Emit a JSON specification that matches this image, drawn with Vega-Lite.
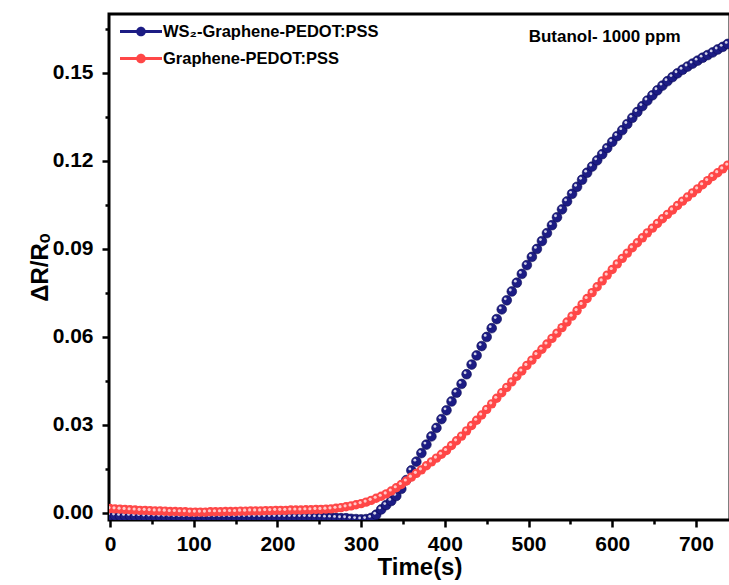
{
  "$schema": "https://vega.github.io/schema/vega-lite/v6.json",
  "width": 621,
  "height": 506,
  "autosize": {"type": "none"},
  "padding": {"left": 109, "top": 14, "right": 0, "bottom": 65},
  "background": "white",
  "config": {"view": {"stroke": "black", "strokeWidth": 3}, "font": "Liberation Sans"},
  "data": {"values": [
    {"t":0,"ws":-0.0008,"g":0.0015},{"t":6,"ws":-0.0009,"g":0.0014},{"t":12,"ws":-0.0010,"g":0.0013},{"t":18,"ws":-0.0010,"g":0.0012},
    {"t":24,"ws":-0.0010,"g":0.0011},{"t":30,"ws":-0.0011,"g":0.0010},{"t":36,"ws":-0.0011,"g":0.0009},{"t":42,"ws":-0.0012,"g":0.0009},
    {"t":48,"ws":-0.0012,"g":0.0008},{"t":54,"ws":-0.0012,"g":0.0007},{"t":60,"ws":-0.0013,"g":0.0007},{"t":66,"ws":-0.0013,"g":0.0006},
    {"t":72,"ws":-0.0013,"g":0.0005},{"t":78,"ws":-0.0014,"g":0.0005},{"t":84,"ws":-0.0014,"g":0.0004},{"t":90,"ws":-0.0014,"g":0.0004},
    {"t":96,"ws":-0.0014,"g":0.0003},{"t":102,"ws":-0.0014,"g":0.0003},{"t":108,"ws":-0.0014,"g":0.0003},{"t":114,"ws":-0.0014,"g":0.0003},
    {"t":120,"ws":-0.0014,"g":0.0004},{"t":126,"ws":-0.0014,"g":0.0004},{"t":132,"ws":-0.0014,"g":0.0004},{"t":138,"ws":-0.0014,"g":0.0005},
    {"t":144,"ws":-0.0014,"g":0.0005},{"t":150,"ws":-0.0014,"g":0.0005},{"t":156,"ws":-0.0014,"g":0.0006},{"t":162,"ws":-0.0014,"g":0.0006},
    {"t":168,"ws":-0.0014,"g":0.0007},{"t":174,"ws":-0.0014,"g":0.0007},{"t":180,"ws":-0.0014,"g":0.0007},{"t":186,"ws":-0.0014,"g":0.0008},
    {"t":192,"ws":-0.0014,"g":0.0008},{"t":198,"ws":-0.0014,"g":0.0009},{"t":204,"ws":-0.0014,"g":0.0009},{"t":210,"ws":-0.0014,"g":0.0009},
    {"t":216,"ws":-0.0014,"g":0.0010},{"t":222,"ws":-0.0014,"g":0.0010},{"t":228,"ws":-0.0014,"g":0.0010},{"t":234,"ws":-0.0014,"g":0.0011},
    {"t":240,"ws":-0.0014,"g":0.0011},{"t":246,"ws":-0.0015,"g":0.0012},{"t":252,"ws":-0.0015,"g":0.0012},{"t":258,"ws":-0.0016,"g":0.0013},
    {"t":264,"ws":-0.0016,"g":0.0014},{"t":270,"ws":-0.0017,"g":0.0016},{"t":276,"ws":-0.0018,"g":0.0018},{"t":282,"ws":-0.0018,"g":0.0021},
    {"t":288,"ws":-0.0020,"g":0.0024},{"t":294,"ws":-0.0021,"g":0.0028},{"t":300,"ws":-0.0022,"g":0.0032},{"t":306,"ws":-0.0021,"g":0.0037},
    {"t":312,"ws":-0.0017,"g":0.0043},{"t":318,"ws":-0.0006,"g":0.0050},{"t":324,"ws":0.0012,"g":0.0057},{"t":330,"ws":0.0027,"g":0.0065},
    {"t":336,"ws":0.0041,"g":0.0075},{"t":342,"ws":0.0058,"g":0.0086},{"t":348,"ws":0.0082,"g":0.0097},{"t":354,"ws":0.0112,"g":0.0109},
    {"t":360,"ws":0.0145,"g":0.0122},{"t":366,"ws":0.0175,"g":0.0135},{"t":372,"ws":0.0204,"g":0.0147},{"t":378,"ws":0.0233,"g":0.0161},
    {"t":384,"ws":0.0261,"g":0.0174},{"t":390,"ws":0.0290,"g":0.0187},{"t":396,"ws":0.0320,"g":0.0200},{"t":402,"ws":0.0350,"g":0.0213},
    {"t":408,"ws":0.0380,"g":0.0230},{"t":414,"ws":0.0410,"g":0.0246},{"t":420,"ws":0.0440,"g":0.0262},{"t":426,"ws":0.0473,"g":0.0280},
    {"t":432,"ws":0.0506,"g":0.0298},{"t":438,"ws":0.0537,"g":0.0316},{"t":444,"ws":0.0569,"g":0.0334},{"t":450,"ws":0.0600,"g":0.0353},
    {"t":456,"ws":0.0630,"g":0.0372},{"t":462,"ws":0.0661,"g":0.0391},{"t":468,"ws":0.0694,"g":0.0410},{"t":474,"ws":0.0725,"g":0.0428},
    {"t":480,"ws":0.0755,"g":0.0447},{"t":486,"ws":0.0785,"g":0.0466},{"t":492,"ws":0.0815,"g":0.0484},{"t":498,"ws":0.0845,"g":0.0503},
    {"t":504,"ws":0.0873,"g":0.0521},{"t":510,"ws":0.0900,"g":0.0540},{"t":516,"ws":0.0927,"g":0.0558},{"t":522,"ws":0.0954,"g":0.0576},
    {"t":528,"ws":0.0981,"g":0.0595},{"t":534,"ws":0.1008,"g":0.0613},{"t":540,"ws":0.1035,"g":0.0632},{"t":546,"ws":0.1062,"g":0.0651},
    {"t":552,"ws":0.1088,"g":0.0671},{"t":558,"ws":0.1112,"g":0.0690},{"t":564,"ws":0.1136,"g":0.0711},{"t":570,"ws":0.1160,"g":0.0731},
    {"t":576,"ws":0.1181,"g":0.0751},{"t":582,"ws":0.1202,"g":0.0771},{"t":588,"ws":0.1223,"g":0.0791},{"t":594,"ws":0.1244,"g":0.0811},
    {"t":600,"ws":0.1265,"g":0.0830},{"t":606,"ws":0.1285,"g":0.0849},{"t":612,"ws":0.1305,"g":0.0868},{"t":618,"ws":0.1326,"g":0.0886},
    {"t":624,"ws":0.1347,"g":0.0904},{"t":630,"ws":0.1367,"g":0.0921},{"t":636,"ws":0.1387,"g":0.0938},{"t":642,"ws":0.1406,"g":0.0955},
    {"t":648,"ws":0.1424,"g":0.0971},{"t":654,"ws":0.1441,"g":0.0987},{"t":660,"ws":0.1457,"g":0.1003},{"t":666,"ws":0.1472,"g":0.1018},
    {"t":672,"ws":0.1486,"g":0.1033},{"t":678,"ws":0.1499,"g":0.1048},{"t":684,"ws":0.1511,"g":0.1063},{"t":690,"ws":0.1522,"g":0.1077},
    {"t":696,"ws":0.1532,"g":0.1091},{"t":702,"ws":0.1542,"g":0.1105},{"t":708,"ws":0.1552,"g":0.1119},{"t":714,"ws":0.1561,"g":0.1133},
    {"t":720,"ws":0.1570,"g":0.1147},{"t":726,"ws":0.1580,"g":0.1160},{"t":732,"ws":0.1589,"g":0.1173},{"t":738,"ws":0.1599,"g":0.1186}
  ]},
  "layer": [
    {
      "mark": {"type": "point", "filled": true, "shape": "circle", "size": 95, "opacity": 1, "stroke": "#0c0c55", "strokeWidth": 0.6, "clip": true},
      "encoding": {
        "x": {"field": "t", "type": "quantitative",
              "scale": {"domain": [-1.2, 740.7], "nice": false, "zero": false},
              "axis": {"values": [0,50,100,150,200,250,300,350,400,450,500,550,600,650,700],
                       "labelExpr": "datum.value % 100 === 0 ? datum.label : ''",
                       "title": "Time(s)", "orient": "bottom",
                       "domain": false, "grid": false,
                       "tickSize": {"condition": {"test": "datum.value % 100 === 0", "value": 7}, "value": 4},
                       "tickWidth": 2.5, "tickColor": "black",
                       "labelFont": "Liberation Sans", "labelFontWeight": "bold", "labelFontSize": 21, "labelColor": "black", "labelPadding": 6,
                       "titleFont": "Liberation Sans", "titleFontWeight": "bold", "titleFontSize": 24, "titleColor": "black", "titlePadding": 1}},
        "y": {"field": "ws", "type": "quantitative",
              "scale": {"domain": [-0.0024, 0.1701], "nice": false, "zero": false},
              "axis": {"values": [0,0.015,0.03,0.045,0.06,0.075,0.09,0.105,0.12,0.135,0.15,0.165],
                       "labelExpr": "abs(datum.value*100 - round(datum.value*100/3)*3) < 0.01 ? format(datum.value, '.2f') : ''",
                       "title": "ΔR/Rₒ", "orient": "left",
                       "domain": false, "grid": false,
                       "tickSize": {"condition": {"test": "abs(datum.value*100 - round(datum.value*100/3)*3) < 0.01", "value": 7}, "value": 4},
                       "tickWidth": 2.5, "tickColor": "black",
                       "labelFont": "Liberation Sans", "labelFontWeight": "bold", "labelFontSize": 21, "labelColor": "black", "labelPadding": 9,
                       "titleFont": "Liberation Sans", "titleFontWeight": "bold", "titleFontSize": 24, "titleColor": "black",
                       "titleX": -69, "titleBaseline": "middle"}},
        "color": {"datum": "WS₂-Graphene-PEDOT:PSS", "type": "nominal",
                  "scale": {"domain": ["WS₂-Graphene-PEDOT:PSS", "Graphene-PEDOT:PSS"], "range": ["#1c1c84", "#ff4747"]},
                  "legend": {"orient": "none", "legendX": 11, "legendY": 7, "title": null, "padding": 0,
                             "symbolType": "M-2,-0.14H2V0.14H-2Z M-0.46,0A0.46,0.46 0 1,1 0.46,0A0.46,0.46 0 1,1 -0.46,0Z",
                             "symbolSize": 441, "symbolOffset": 10.5, "symbolStrokeWidth": 0, "symbolOpacity": 1,
                             "labelFont": "Liberation Sans", "labelFontWeight": "bold", "labelFontSize": 16.5, "labelColor": "black",
                             "labelLimit": 0, "rowPadding": 8, "labelOffset": 11.5}}
      }
    },
    {
      "mark": {"type": "point", "filled": true, "shape": "circle", "size": 8, "color": "white", "opacity": 0.8, "xOffset": -1.5, "yOffset": -1.5, "clip": true},
      "encoding": {
        "x": {"field": "t", "type": "quantitative"},
        "y": {"field": "ws", "type": "quantitative"}
      }
    },
    {
      "mark": {"type": "point", "filled": true, "shape": "circle", "size": 88, "opacity": 1, "clip": true},
      "encoding": {
        "x": {"field": "t", "type": "quantitative"},
        "y": {"field": "g", "type": "quantitative"},
        "color": {"datum": "Graphene-PEDOT:PSS", "type": "nominal"}
      }
    },
    {
      "mark": {"type": "point", "filled": true, "shape": "circle", "size": 10, "color": "#ffe0e0", "opacity": 0.85, "xOffset": -1, "yOffset": -1, "clip": true},
      "encoding": {
        "x": {"field": "t", "type": "quantitative"},
        "y": {"field": "g", "type": "quantitative"}
      }
    },
    {
      "data": {"values": [{"label": "Butanol- 1000 ppm"}]},
      "mark": {"type": "text", "font": "Liberation Sans", "fontWeight": "bold", "fontSize": 17, "align": "center", "baseline": "middle", "color": "black"},
      "encoding": {
        "x": {"datum": 591, "type": "quantitative"},
        "y": {"datum": 0.1623, "type": "quantitative"},
        "text": {"field": "label"}
      }
    }
  ]
}
